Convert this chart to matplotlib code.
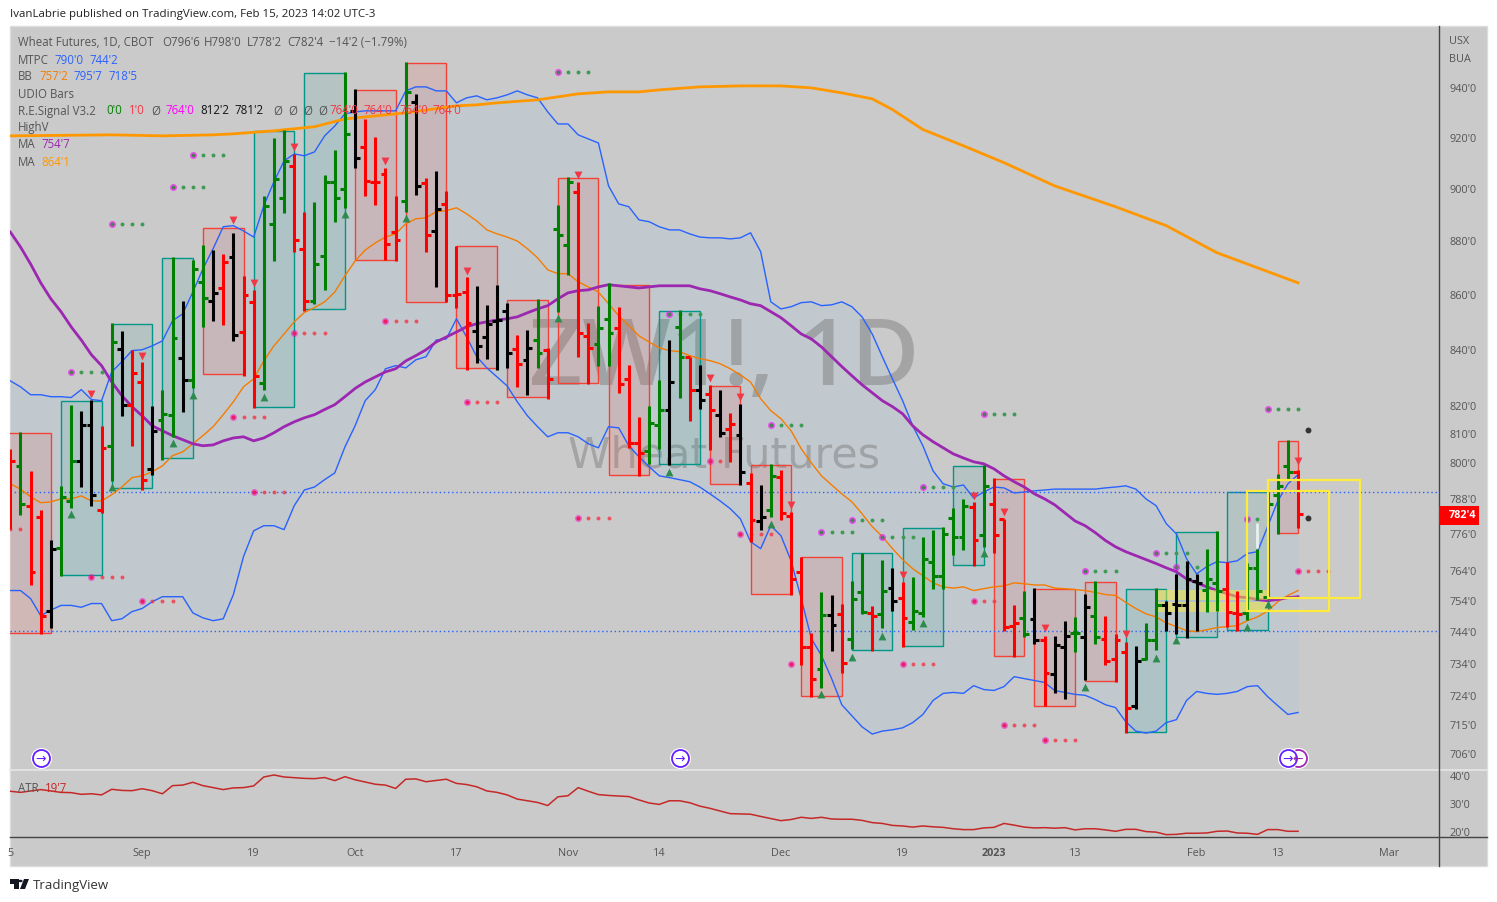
import matplotlib
matplotlib.use('Agg')

import numpy as np
import matplotlib.pyplot as plt
from matplotlib.patches import Rectangle, Polygon, Circle
from matplotlib.ticker import NullLocator

W, H = 1497, 903
BG = '#cacaca'

plt.rcParams['font.family'] = ['Open Sans', 'DejaVu Sans']

# daily bars of ZW1!, colour code: g green, r red, k black
bar_colors = ("rgrrkggkkr" "gkrrkggkgg" "krkrrgggrr" "ggggkrrrrg" "krkrrrkkkk" "rkgrggrrgg" "rrrggkgrkr"
              "krkrkgrrrr" "gkrggrgkrg" "gggggrgrrr" "gkrkkgkgrr" "rkggkkkkgg" "rrgggggr")
highs = [805.2,811.0,797.6,784.5,774.5,792.5,820.5,818.4,822.3,813.1,849.7,846.8,840.0,835.7,820.2,825.8,874.1,857.8,872.9,878.5,
         876.6,875.1,883.1,867.0,861.6,897.2,919.7,922.8,913.4,891.1,894.9,905.3,915.0,946.1,939.2,927.2,920.1,907.9,897.2,950.2,
         937.2,904.1,906.8,899.1,878.2,866.6,863.3,856.3,863.7,857.1,845.3,847.1,858.5,840.7,893.8,904.5,902.6,849.7,856.0,864.4,
         855.6,834.6,816.3,820.2,829.3,843.5,854.5,837.5,834.6,827.5,825.8,817.7,820.9,796.9,792.8,800.0,798.0,783.8,768.9,744.3,
         757.2,756.5,753.3,760.9,770.2,752.7,767.9,765.2,760.6,762.3,775.5,777.8,778.8,785.1,788.1,787.1,799.6,795.3,781.4,753.0,
         757.8,758.6,743.3,743.3,748.1,749.3,756.8,760.9,749.7,744.0,741.4,739.9,747.4,758.6,754.3,763.2,767.5,763.2,771.5,777.4,
         767.2,757.8,766.9,771.5,790.8,796.6,808.3,798.0]
lows = [778.1,782.7,759.6,744.0,745.6,762.6,785.1,792.1,785.8,783.4,794.2,816.6,806.2,791.1,796.3,801.4,809.3,818.0,826.2,848.3,
        850.5,849.0,843.2,830.7,819.5,825.5,872.5,890.7,876.0,853.9,856.7,861.6,887.3,892.6,907.9,897.2,893.8,872.9,872.5,891.1,
        897.6,876.0,862.9,857.4,855.3,832.8,835.4,836.8,832.8,833.5,826.8,824.0,833.5,822.6,853.5,867.4,837.5,827.8,834.3,834.3,
        824.7,805.5,795.9,800.0,805.2,799.6,823.0,814.9,819.1,804.8,809.3,800.7,792.8,773.8,777.8,782.1,781.1,756.5,734.2,724.2,
        727.0,738.6,731.4,739.0,750.3,738.6,745.6,751.2,739.6,745.2,749.3,758.4,758.4,769.5,771.2,765.9,772.1,770.2,744.9,736.7,
        743.0,740.8,721.2,725.2,723.6,738.3,729.5,740.8,734.2,728.6,713.1,720.5,735.5,738.9,744.9,744.0,742.7,744.9,750.9,751.2,
        746.2,744.9,748.4,754.9,755.2,776.4,794.6,778.4]
opens = [799.0,799.3,785.8,782.1,751.2,771.8,787.5,801.0,813.5,784.5,806.2,840.3,820.5,828.5,798.3,815.2,817.0,837.2,829.3,864.8,
         857.8,862.5,874.1,846.4,857.4,828.0,886.5,896.4,908.8,877.0,857.8,874.4,902.6,899.9,930.3,916.2,902.6,905.6,883.5,895.3,
         934.0,902.2,883.8,894.1,860.0,861.0,846.8,844.6,850.5,853.9,840.3,836.4,843.5,840.0,884.6,878.5,898.7,845.0,842.1,851.2,
         847.9,829.6,807.2,804.5,813.5,818.8,848.3,837.5,825.5,824.4,817.0,812.1,810.0,793.5,780.7,784.5,795.6,782.4,763.9,739.6,
         732.9,749.9,750.3,742.4,757.2,750.6,750.3,758.6,755.5,747.8,750.6,767.2,762.6,781.8,775.2,785.4,776.1,786.4,781.4,746.5,
         749.0,748.7,741.8,731.1,739.6,744.3,743.0,749.7,742.4,735.8,738.3,721.2,735.8,741.8,753.0,753.6,753.0,761.0,758.1,760.3,
         758.4,750.6,750.6,765.2,755.8,789.5,799.3,797.3]
closes = [801.0,786.4,763.9,749.7,771.5,788.8,801.0,813.5,789.5,805.5,842.8,820.5,831.8,794.6,811.4,817.3,844.3,829.3,869.6,858.9,
          860.7,872.2,845.3,860.0,830.7,893.4,903.7,910.7,880.4,857.8,871.4,902.6,896.4,921.2,911.9,902.9,902.6,878.9,880.4,938.0,
          900.8,882.3,892.2,860.0,860.4,849.8,841.4,849.4,850.8,838.9,835.0,840.7,838.9,829.6,882.3,902.6,846.0,840.7,848.0,846.0,
          827.8,807.2,803.8,814.2,818.8,828.5,837.5,825.5,822.3,818.8,810.7,813.8,797.3,781.1,782.1,795.9,783.4,761.6,739.6,729.8,
          749.9,746.8,734.8,755.2,750.9,749.7,757.8,754.3,749.0,751.2,768.2,762.6,776.4,775.2,785.8,774.5,792.5,776.1,746.2,747.4,
          744.0,742.1,731.7,740.5,743.3,744.3,752.4,743.0,735.2,742.1,720.8,735.2,741.8,753.0,750.6,753.0,761.6,760.3,761.6,757.5,
          750.9,750.3,765.2,757.8,786.4,792.5,797.3,783.0]

# Bollinger bands and moving averages, one value per bar
bb_upper = [828.9,826.8,824.0,824.0,823.3,823.3,823.0,825.8,822.3,821.9,832.1,835.7,839.7,840.0,841.4,843.2,850.5,853.0,861.0,869.6,
            877.1,885.4,885.8,883.8,881.5,893.4,902.6,910.7,913.4,912.7,914.2,920.5,924.4,929.2,930.0,930.4,930.4,930.4,930.4,938.4,
            940.0,940.0,938.4,938.4,933.6,935.6,936.4,934.8,935.6,936.8,938.4,936.8,935.6,930.0,925.2,925.2,920.9,919.3,917.7,901.0,
            894.1,893.0,888.0,887.3,885.4,884.2,884.2,882.7,881.5,881.2,881.2,880.8,881.2,883.1,876.0,857.4,854.8,855.6,857.1,857.4,
            856.0,856.3,857.4,855.6,851.9,845.7,837.5,829.6,821.9,813.1,806.2,797.6,793.2,792.1,792.8,788.4,790.4,792.1,791.8,790.1,
            790.4,790.8,791.1,791.4,791.4,791.4,791.4,791.4,791.8,792.1,792.5,791.4,788.1,785.8,779.8,776.4,768.2,763.2,765.6,767.2,
            766.9,767.5,769.9,770.5,778.8,787.4,793.2,796.3]
bb_lower = [757.8,757.8,755.2,749.7,751.5,753.0,753.0,752.4,753.6,753.6,748.1,748.7,751.0,752.0,754.2,755.8,755.8,755.8,750.6,749.0,
            748.1,748.7,756.5,768.9,777.4,779.1,779.1,777.8,785.8,791.1,792.1,794.6,796.9,805.8,813.1,821.9,825.8,833.2,834.3,833.5,
            836.4,837.5,843.5,843.9,851.2,844.6,837.5,833.5,830.3,827.1,821.5,816.6,812.8,809.3,810.7,810.7,809.3,806.9,805.5,812.8,
            812.4,806.2,802.4,799.0,795.9,795.3,794.6,793.9,792.1,789.8,787.4,784.8,781.4,773.8,771.5,779.1,775.8,767.5,755.2,742.4,
            737.0,729.8,721.7,718.3,714.9,712.7,713.6,714.0,714.6,716.2,718.7,723.0,725.2,725.5,725.2,727.6,726.4,726.1,727.3,730.4,
            729.8,729.2,728.6,726.1,725.5,724.9,724.6,723.3,721.7,720.8,716.5,713.6,713.0,713.6,716.2,717.1,723.0,725.8,725.2,724.9,
            725.2,725.8,727.3,727.6,724.2,721.4,718.7,719.3]
bb_basis = [793.2,791.4,788.8,786.8,787.1,788.1,788.1,789.1,787.4,787.4,789.5,792.1,795.3,795.9,797.3,799.3,802.8,804.1,806.9,809.7,
            812.8,817.0,821.5,826.8,829.6,836.0,841.4,845.7,850.1,853.5,855.3,857.4,861.0,867.0,872.5,876.6,879.3,881.5,882.7,886.5,
            888.4,888.8,891.1,891.5,892.6,890.3,887.6,884.2,882.7,881.5,880.0,877.1,873.7,869.2,867.8,867.8,864.8,862.9,861.0,856.7,
            852.3,848.7,845.0,842.8,840.7,839.7,839.3,837.9,836.8,836.1,835.0,833.2,831.0,828.5,822.6,818.4,815.6,811.4,805.2,800.3,
            795.9,792.8,789.8,787.1,783.1,778.8,775.5,771.5,767.9,764.9,762.6,760.3,759.0,758.6,759.0,757.8,758.4,759.0,759.3,760.3,
            760.0,759.6,759.6,758.6,758.4,758.1,757.8,757.2,756.5,756.2,754.0,752.0,750.3,749.3,747.4,746.2,744.9,744.6,745.2,745.9,
            746.2,746.5,748.1,749.3,751.2,754.2,756.2,757.8]
ma_purple = [883.4,877.8,871.4,864.4,858.5,853.8,848.3,843.5,838.2,834.3,828.5,823.7,819.8,816.6,813.1,811.4,809.7,808.3,806.9,806.2,
             806.5,807.9,808.9,809.3,807.9,808.9,810.7,812.8,814.5,815.9,817.0,818.8,820.5,823.3,826.2,828.5,830.3,832.1,833.2,836.0,
             837.9,840.0,842.8,844.6,846.4,848.3,849.4,850.1,850.8,851.2,851.9,853.4,854.8,856.0,858.5,860.7,861.5,861.8,862.9,863.7,
             863.3,862.9,862.5,862.9,863.3,863.3,863.3,863.3,862.2,861.5,860.4,859.2,858.1,856.7,856.0,853.8,851.6,848.7,845.7,843.9,
             841.0,837.5,834.0,830.7,827.5,824.7,821.9,819.8,817.3,813.1,810.0,807.6,805.5,803.4,802.0,800.7,800.0,798.3,795.9,793.9,
             792.1,789.8,788.1,786.1,783.4,780.7,779.1,776.8,774.2,772.1,770.5,769.2,767.9,766.6,765.2,763.9,761.6,760.3,759.0,757.8,
             756.8,755.8,755.5,754.9,754.5,754.9,755.5,755.8]
# the long average is smooth, so only its bends were read
ma_long_idx = [0,10,15,20,22,26,30,33,36,39,44,46,48,52,54,56,59,62,64,68,72,76,79,82,85,87,90,94,98,103,109,114,119,127]
ma_long = [920.5,920.9,920.5,920.9,921.3,922.5,924.1,927.2,928.4,929.6,932.4,932.8,933.6,934.8,936.0,937.2,938.0,938.0,938.8,940.0,
           940.4,940.4,939.6,937.6,935.2,930.9,923.0,916.6,910.0,901.0,893.0,885.8,875.6,864.4]

# signal boxes: first bar, last bar, top, bottom, kind
box_start = [-2,5,10,15,19,24,29,34,39,44,49,54,59,64,69,73,78,83,88,93,97,101,106,110,115,120,125]
box_end = [4,9,14,18,23,28,33,38,43,48,53,58,63,68,72,77,82,87,92,96,100,105,109,114,119,124,127]
box_top = [810.7,821.9,849.4,873.7,884.9,922.5,945.7,938.8,949.6,878.0,858.1,904.1,863.7,853.9,827.1,799.6,768.6,769.9,778.4,799.3,794.9,758.4,760.6,758.4,777.1,790.4,807.9]
box_bottom = [744.3,762.9,791.8,802.1,831.4,819.8,854.8,872.9,857.4,833.5,823.3,828.2,796.3,800.0,793.2,756.8,724.5,738.9,739.9,766.2,737.0,721.4,728.9,713.3,743.0,745.2,776.8]
box_kind = "rgggrggrrrrrrgrrrgggrrrgggr"

# signal triangles
up_idx = [6,10,16,18,25,33,39,54,65,75,80,83,86,90,96,106,113,115,122,124]
up_price = [783.1,792.1,807.2,824.0,823.3,890.3,888.8,851.6,797.3,779.7,724.9,736.7,743.3,747.4,769.9,727.3,736.4,741.8,746.2,753.3]
down_idx = [8,13,22,24,28,37,45,56,69,72,77,88,95,98,102,110,127]
down_price = [824.4,837.9,888.0,864.4,916.2,910.7,868.9,905.3,830.0,823.3,786.1,762.9,789.1,783.8,745.6,743.7,801.0]

# rows of dots: start bar, price, number of trailing dots
green_row_idx = [18,16,10,54,6,65,75,83,80,86,90,96,106,113,115,122,124]
green_row_price = [913.0,900.6,886.5,946.0,832.1,853.0,813.5,781.1,777.1,775.5,792.1,817.3,764.2,769.9,765.6,781.4,819.1]
green_row_dots = [3,3,3,3,3,3,3,3,3,3,3,3,3,3,2,1,3]
red_row_idx = [-2,8,13,22,24,28,37,45,56,72,69,77,88,95,98,102,127]
red_row_price = [778.0,762.3,754.5,816.3,790.4,846.0,850.5,821.5,781.7,776.4,801.0,734.5,734.5,754.5,715.5,711.0,764.2]
red_row_dots = [3,3,3,3,3,3,3,3,3,3,1,0,3,2,3,3,3]

dark_dot_idx = [128,128]
dark_dot_price = [811.7,781.7]
hline_prices = [790.4,744.9]
badge_price = 705.4

atr_idx = [0,1,3,5,6,7,8,9,10,11,12,13,14,15,16,17,18,19,21,22,23,24,25,26,27,29,30,31,32,33,34,36,37,38,39,40,41,43,44,45,46,47,48,49,50,51,52,53,54,55,56,57,58,59,61,62,63,64,65,66,67,68,69,71,
           73,74,76,77,78,79,80,81,82,83,84,85,86,87,88,89,90,91,92,93,94,95,96,97,98,99,100,101,102,103,104,105,106,107,108,109,110,111,112,113,114,115,116,117,118,119,120,121,122,123,124,125,126,127]
atr = [34.2,33.8,34.8,33.8,33.7,33.1,33.3,32.9,34.9,34.5,34.4,35.1,34.4,33.3,36.2,36.4,37.4,36.2,34.8,35.4,35.5,36.1,39.3,40.0,39.3,38.8,38.7,39.1,38.0,39.4,38.3,36.7,36.4,35.2,38.5,38.6,37.6,38.5,37.0,36.6,35.8,34.3,33.8,32.9,31.4,30.8,30.2,29.1,32.2,32.6,35.5,34.2,33.0,32.7,32.3,31.1,30.0,29.5,30.8,30.8,30.1,28.9,28.1,26.2,
       26.0,25.2,23.7,24.1,24.9,24.5,24.9,24.3,24.2,24.2,23.8,23.0,22.7,22.0,21.8,21.4,21.8,21.5,21.3,20.8,20.5,20.5,21.1,21.3,22.7,22.1,21.4,21.1,21.2,21.0,21.2,20.4,20.8,20.8,20.4,19.9,20.6,20.6,19.8,19.6,18.7,18.8,19.2,19.2,19.3,19.9,20.0,19.3,19.2,18.8,20.5,20.5,19.9,19.9]

price_ticks = [940,920,900,880,860,840,820,810,800,788,776,764,754,744,734,724,715,706]
atr_ticks = [40,30,20]
date_ticks = [0,13,24,34,44,55,64,76,88,97,105,117,125,136]
date_labels = ['5','Sep','19','Oct','17','Nov','14','Dec','19','2023','13','Feb','13','Mar']

GREEN, RED, TEAL, CORAL = '#008000', '#ff0000', '#009688', '#f44336'
BLUE, ORANGE, PURPLE, TXT = '#2962ff', '#f57c00', '#9c27b0', '#555555'
code = {'g': GREEN, 'r': RED, 'k': '#000000'}


# my reading ruler drifted a little low on the price axis, this puts the values back on it
def recal(prices):
    prices = np.asarray(prices, dtype=float)
    return prices - 0.0035 * (940 - prices)


highs, lows, opens, closes = recal(highs), recal(lows), recal(opens), recal(closes)
bb_upper, bb_lower, bb_basis = recal(bb_upper), recal(bb_lower), recal(bb_basis)
ma_purple, ma_long = recal(ma_purple), recal(ma_long)
box_top, box_bottom = recal(box_top), recal(box_bottom)
up_price, down_price = recal(up_price), recal(down_price)
green_row_price, red_row_price = recal(green_row_price), recal(red_row_price)
dark_dot_price, hline_prices = recal(dark_dot_price), recal(hline_prices)
badge_price = float(recal(badge_price))

fig = plt.figure(figsize=(W / 100, H / 100), dpi=100, facecolor='white')


def axes_box(top, bottom):
    return [10 / W, 1 - bottom / H, (1439 - 10) / W, (bottom - top) / H]


def label(px, py, s, color=TXT, size=8.3, **kw):
    fig.text(px / W, 1 - py / H, s, color=color, fontsize=size, va='center', zorder=20, **kw)


# chart panel behind both axes
fig.add_artist(Rectangle((10 / W, 1 - 867 / H), 1477 / W, 840 / H, transform=fig.transFigure,
                         facecolor=BG, edgecolor='#dcdcdc', lw=1, zorder=0))

ax = fig.add_axes(axes_box(27, 771))
ax2 = fig.add_axes(axes_box(771, 838), sharex=ax)
for a in (ax, ax2):
    a.patch.set_alpha(0)
    for s in a.spines.values():
        s.set_visible(False)

x = np.arange(len(highs))

ax.set_yscale('log')
ax.set_xlim(-0.03, 140.9)
ax.set_ylim(701.0, 964.9)

ax.fill_between(x, bb_lower, bb_upper, color='#c2c9ce', lw=0, zorder=1)

# watermark
ax.text(0.5, 1 - (361 - 27) / 744, 'ZW1!, 1D', transform=ax.transAxes, ha='center', va='center',
        fontsize=67, fontweight='semibold', color='#666666', alpha=0.38, zorder=1.5, family=['Open Sans'])
ax.text(0.5, 1 - (455 - 27) / 744, 'Wheat Futures', transform=ax.transAxes, ha='center', va='center',
        fontsize=31, color='#666666', alpha=0.38, zorder=1.5, family=['DejaVu Sans'])

for left, right, top, bottom, kind in zip(box_start, box_end, box_top, box_bottom, box_kind):
    edge = TEAL if kind == 'g' else CORAL
    ax.add_patch(Rectangle((left, bottom), right - left, top - bottom, facecolor=edge,
                           alpha=0.10 if kind == 'g' else 0.13, lw=0, zorder=2))
    ax.add_patch(Rectangle((left, bottom), right - left, top - bottom, facecolor='none',
                           edgecolor=edge, lw=1, zorder=2.1))

for p in hline_prices:
    ax.axhline(p, color=BLUE, lw=1, ls=(0, (1, 2)), zorder=2.2)

ax.plot(x, bb_upper, color=BLUE, lw=1, zorder=3)
ax.plot(x, bb_lower, color=BLUE, lw=1, zorder=3)
ax.plot(x, bb_basis, color=ORANGE, lw=1, zorder=3)
ax.plot(x, ma_purple, color=PURPLE, lw=2, zorder=3)
ax.plot(ma_long_idx, ma_long, color='#ff9800', lw=2, zorder=3)

# yellow zones near the end of the chart
ax.add_patch(Rectangle((113, 754.0), 11, 3.3, facecolor='#ffeb3b', alpha=0.5, lw=0, zorder=3))
ax.add_patch(Rectangle((113, 750.3), 11, 3.3, facecolor='#ffeb3b', alpha=0.5, lw=0, zorder=3))
ax.add_patch(Rectangle((122, 750.6), 8.1, 39.6, facecolor='none', edgecolor='#ffeb3b', lw=1.6, zorder=5))
ax.add_patch(Rectangle((124, 754.6), 9.1, 39.4, facecolor='none', edgecolor='#ffeb3b', lw=1.6, zorder=5))
ax.vlines(123, 771.0, 779.6, color='#e8f0f0', lw=2, zorder=3.5)

# dots
for idx, price, n in zip(red_row_idx, red_row_price, red_row_dots):
    ax.scatter([idx], [price], s=26, color='#ff00c8', alpha=0.45, lw=0, zorder=3.6)
    ax.scatter([idx], [price], s=9, color='#e91e63', lw=0, zorder=3.6)
    ax.scatter(idx + np.arange(1, n + 1), [price] * n, s=8, color='#f23645', alpha=0.8, lw=0, zorder=3.6)
for idx, price, n in zip(green_row_idx, green_row_price, green_row_dots):
    ax.scatter([idx], [price], s=26, color='#ff00ff', alpha=0.6, lw=0, zorder=3.6)
    ax.scatter([idx], [price], s=8, color='#4c7c59', lw=0, zorder=3.6)
    ax.scatter(idx + np.arange(1, n + 1), [price] * n, s=8, color='#3f9a55', lw=0, zorder=3.6)

# OHLC bars
bar_c = [code[c] for c in bar_colors]
ax.vlines(x, lows, highs, colors=bar_c, lw=2.2, zorder=4)
ax.hlines(opens, x - 0.48, x, colors=bar_c, lw=2.2, zorder=4)
ax.hlines(closes, x, x + 0.48, colors=bar_c, lw=2.2, zorder=4)

ax.scatter(up_idx, up_price, marker='^', s=32, color='#2e8b4e', lw=0, zorder=4.5)
ax.scatter(down_idx, down_price, marker='v', s=32, color='#f23645', lw=0, zorder=4.5)
ax.scatter(dark_dot_idx, dark_dot_price, s=18, color='#333333', lw=0, zorder=4.5)

# event badges along the bottom
for idx, col, mark in zip([3, 66, 127, 126], ['#651fff', '#651fff', PURPLE, '#651fff'], ['→', '→', '←', '→']):
    ax.scatter([idx], [badge_price], s=200, facecolor='white', edgecolor='white', lw=1, zorder=6)
    ax.scatter([idx], [badge_price], s=150, facecolor='white', edgecolor=col, lw=1.3, zorder=6)
    ax.text(idx, badge_price, mark, color=col, fontsize=9, ha='center', va='center', zorder=6.1, family=['DejaVu Sans'])

ax.yaxis.set_minor_locator(NullLocator())
ax.yaxis.tick_right()
ax.set_yticks(price_ticks)
ax.set_yticklabels([f"{p}'0" for p in price_ticks])
ax.tick_params(axis='y', length=0, pad=7.5, labelsize=7.8, labelcolor=TXT)
ax.tick_params(axis='x', length=0, labelbottom=False)

# ATR pane
ax2.plot(atr_idx, atr, color='#c62828', lw=1.1)
ax2.set_ylim(17.86, 41.79)
ax2.yaxis.tick_right()
ax2.set_yticks(atr_ticks)
ax2.set_yticklabels([f"{v}'0" for v in atr_ticks])
ax2.tick_params(axis='y', length=0, pad=7.5, labelsize=7.8, labelcolor=TXT)
ax2.set_xticks(date_ticks)
ax2.set_xticklabels(date_labels)
ax2.tick_params(axis='x', length=0, pad=7.5, labelsize=7.8, labelcolor=TXT)
ax2.get_xticklabels()[9].set_fontweight('bold')

# pane separators
fig.add_artist(plt.Line2D([10 / W, 1487 / W], [1 - 771 / H] * 2, color='#e6e6e6', lw=1.2, zorder=10))
fig.add_artist(plt.Line2D([10 / W, 1487 / W], [1 - 838 / H] * 2, color='#444444', lw=1, zorder=10))
fig.add_artist(plt.Line2D([1439 / W] * 2, [1 - 867 / H, 1 - 27 / H], color='#444444', lw=1, zorder=10))

# last price tag
fig.add_artist(Rectangle((1439 / W, 1 - 526 / H), 40 / W, 19 / H, transform=fig.transFigure,
                         facecolor=RED, lw=0, zorder=11))
label(1449, 516, "782'4", color='white', size=7.8, fontweight='bold')
label(1449, 41, 'USX', size=7.8)
label(1449, 59, 'BUA', size=7.8)

# legend block
rows = [
    (43, [(18, 'Wheat Futures, 1D, CBOT', TXT), (162, "O796'6", TXT), (204, "H798'0", TXT), (247, "L778'2", TXT),
          (287, "C782'4", TXT), (329, "−14'2 (−1.79%)", TXT)]),
    (60, [(18, 'MTPC', TXT), (54, "790'0", BLUE), (89, "744'2", BLUE)]),
    (77, [(18, 'BB', TXT), (39, "757'2", ORANGE), (73, "795'7", BLUE), (108, "718'5", BLUE)]),
    (94, [(18, 'UDIO Bars', TXT)]),
    (111, [(18, 'R.E.Signal V3.2', TXT), (106, "0'0", GREEN), (129, "1'0", '#f23645'), (151, 'Ø', TXT),
           (165, "764'0", '#ff00ff'), (200, "812'2", '#111111'), (234, "781'2", '#111111'), (273, 'Ø', TXT),
           (288, 'Ø', TXT), (303, 'Ø', TXT), (318, 'Ø', TXT), (329, "764'0", '#f23645'), (363, "764'0", '#f23645'),
           (399, "764'0", '#f23645'), (432, "764'0", '#f23645')]),
    (128, [(18, 'HighV', TXT)]),
    (145, [(18, 'MA', TXT), (41, "754'7", PURPLE)]),
    (162, [(18, 'MA', TXT), (41, "864'1", '#ff9800')]),
    (789, [(18, 'ATR', TXT), (45, "19'7", '#c62828')]),
]
for py, runs in rows:
    for px, s, col in runs:
        label(px, py, s, color=col)

label(10, 15, 'IvanLabrie published on TradingView.com, Feb 15, 2023 14:02 UTC-3', color='#222222', size=8.25)
label(33, 886, 'TradingView', color='#333333', size=9.5)

# TradingView logo
fig.add_artist(Polygon([[10 / W, 1 - 880 / H], [18.5 / W, 1 - 880 / H], [18.5 / W, 1 - 890 / H], [14 / W, 1 - 890 / H],
                        [14 / W, 1 - 884.5 / H], [10 / W, 1 - 884.5 / H]], transform=fig.transFigure, color='#131722', lw=0))
fig.add_artist(Polygon([[24 / W, 1 - 880 / H], [29 / W, 1 - 880 / H], [25 / W, 1 - 890 / H], [20 / W, 1 - 890 / H]],
                       transform=fig.transFigure, color='#131722', lw=0))
fig.add_artist(Circle((20.5 / W, 1 - 882 / H), 0.0014, transform=fig.transFigure, color='#131722', lw=0))

plt.savefig('out.png', dpi=100)
